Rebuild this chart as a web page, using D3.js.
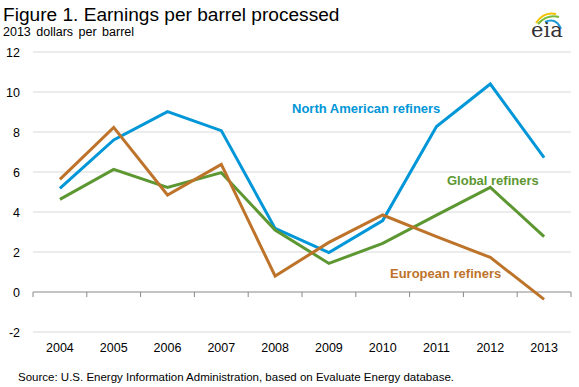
<!DOCTYPE html>
<html><head><meta charset="utf-8">
<script src="https://cdn.jsdelivr.net/npm/d3@7"></script>
<style>body{margin:0;background:#fff}svg{display:block;font-family:Arial,"Liberation Sans",sans-serif}</style>
</head><body><svg id="c" width="579" height="387"></svg>
<script>
const years = ["2004","2005","2006","2007","2008","2009","2010","2011","2012","2013"];
const northAmerican = [5.18, 7.6, 9.02, 8.07, 3.18, 1.97, 3.57, 8.27, 10.4, 6.72];
const global = [4.63, 6.13, 5.23, 5.97, 3.1, 1.43, 2.43, 3.84, 5.23, 2.77];
const european = [5.63, 8.23, 4.85, 6.38, 0.8, 2.48, 3.85, 2.77, 1.73, -0.37];
const yTicks = [-2, 0, 2, 4, 6, 8, 10, 12];
const seriesNames = ["North American refiners", "Global refiners", "European refiners"];
const colors = ["#0096D7", "#5D9732", "#BD732A"];

const svg = d3.select("#c");
const x = d3.scaleBand().domain(years).range([33, 571]);
const y = d3.scaleLinear().domain([-2, 12]).range([332, 52]);

// title
svg.append("text").attr("x", 3).attr("y", 21).attr("font-size", 19.1).attr("fill", "#000").text("Figure 1. Earnings per barrel processed");
svg.append("text").attr("x", 3).attr("y", 36).attr("font-size", 12.5).attr("word-spacing", 2).attr("fill", "#000").text("2013 dollars per barrel");

// gridlines
svg.append("g").selectAll("line").data(yTicks.filter(d => d !== 0)).join("line")
  .attr("x1", 33).attr("x2", 571).attr("y1", d => y(d)).attr("y2", d => y(d))
  .attr("stroke", "#d9d9d9").attr("stroke-width", 1);

// y labels
svg.append("g").selectAll("text").data(yTicks).join("text")
  .attr("x", 20).attr("y", d => y(d) + 4.5).attr("text-anchor", "end")
  .attr("font-size", 12.5).attr("fill", "#000").text(d => d);

// zero axis with ticks
const zero = svg.append("g").attr("transform", `translate(0,${y(0)})`);
zero.append("line").attr("x1", 33).attr("x2", 571).attr("stroke", "#888").attr("stroke-width", 1.2);
const bounds = years.map(d => x(d)).concat([x(years[years.length-1]) + x.bandwidth()]);
zero.selectAll("line.t").data(bounds).join("line").attr("class", "t")
  .attr("x1", d => d).attr("x2", d => d).attr("y1", 0).attr("y2", 5).attr("stroke", "#888");

// x labels
svg.append("g").selectAll("text").data(years).join("text")
  .attr("x", d => x(d) + x.bandwidth() / 2).attr("y", 352).attr("text-anchor", "middle")
  .attr("font-size", 12.5).attr("fill", "#000").text(d => d);

// lines
const line = d3.line().x((d, i) => x(years[i]) + x.bandwidth() / 2).y(d => y(d));
[northAmerican, global, european].forEach((s, k) => {
  svg.append("path").datum(s).attr("d", line).attr("fill", "none")
    .attr("stroke", colors[k]).attr("stroke-width", 3).attr("stroke-linejoin", "miter");
});

// series labels
const labelPos = [[292, 113], [447, 185], [390, 278]];
seriesNames.forEach((n, k) => {
  svg.append("text").attr("x", labelPos[k][0]).attr("y", labelPos[k][1])
    .attr("font-size", 13).attr("font-weight", "bold").attr("fill", colors[k]).text(n);
});

// source
svg.append("text").attr("x", 18).attr("y", 381).attr("font-size", 11.5).attr("fill", "#000")
  .text("Source: U.S. Energy Information Administration, based on Evaluate Energy database.");

// eia logo
const logo = svg.append("g");
logo.append("path").attr("d", "M536,23 Q544,11 556,14").attr("fill", "none").attr("stroke", "#F2C200").attr("stroke-width", 2);
logo.append("path").attr("d", "M538,24 Q547,14 559,17").attr("fill", "none").attr("stroke", "#7CBB3A").attr("stroke-width", 2);
logo.append("path").attr("d", "M545,22 Q556,17 561,29").attr("fill", "none").attr("stroke", "#1E9BD7").attr("stroke-width", 2);
logo.append("text").attr("x", 531).attr("y", 37).attr("font-size", 21).attr("font-family", "'DejaVu Serif','Liberation Serif',serif").attr("fill", "#333").text("eia");
</script></body></html>
